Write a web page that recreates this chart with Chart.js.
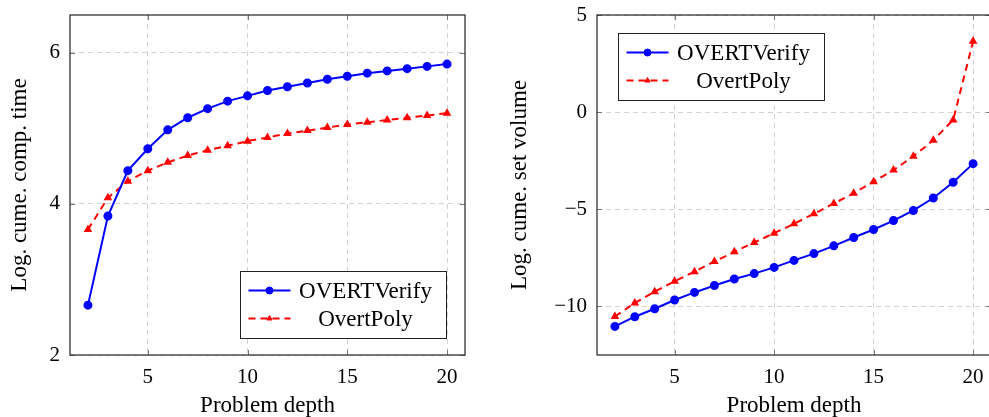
<!DOCTYPE html>
<html>
<head>
<meta charset="utf-8">
<script src="https://cdn.jsdelivr.net/npm/chart.js@4.4.0/dist/chart.umd.min.js"></script>
<style>
  html, body { margin: 0; padding: 0; background: #fff; overflow: hidden; }
  #wrap { position: relative; width: 989px; height: 417px; overflow: hidden; }
  .box { position: absolute; top: 0; height: 417px; }
  #leftBox { left: 0; width: 485px; }
  #rightBox { left: 500px; width: 505px; }
</style>
</head>
<body>
<div id="wrap">
  <div class="box" id="leftBox"><canvas id="timeChart"></canvas></div>
  <div class="box" id="rightBox"><canvas id="volChart"></canvas></div>
</div>
<script>
// ==================== Data ====================
const depths = [2, 3, 4, 5, 6, 7, 8, 9, 10, 11, 12, 13, 14, 15, 16, 17, 18, 19, 20];

// left: log cumulative computation time
const timeOvertVerify = [2.66, 3.84, 4.44, 4.73, 4.98, 5.14, 5.26, 5.36, 5.43, 5.50,
                         5.55, 5.60, 5.65, 5.69, 5.73, 5.76, 5.79, 5.82, 5.85];
const timeOvertPoly = [3.66, 4.08, 4.30, 4.44, 4.55, 4.64, 4.71, 4.77, 4.83, 4.88,
                       4.93, 4.97, 5.01, 5.05, 5.08, 5.11, 5.14, 5.17, 5.20];

// right: log cumulative set volume
const volOvertVerify = [-11.03, -10.53, -10.12, -9.67, -9.28, -8.92, -8.59, -8.31, -7.99, -7.63,
                        -7.28, -6.88, -6.45, -6.04, -5.58, -5.06, -4.42, -3.61, -2.65];
const volOvertPoly = [-10.52, -9.82, -9.24, -8.71, -8.21, -7.69, -7.19, -6.71, -6.23, -5.75,
                      -5.23, -4.70, -4.17, -3.58, -2.98, -2.27, -1.45, -0.40, 3.65];

const seriesNames = ['OVERTVerify', 'OvertPoly'];
const depthTicks = [5, 10, 15, 20];
const timeTicks = [2, 4, 6];
const volTicks = [-10, -5, 0, 5];

const FONT = "'Liberation Serif', 'DejaVu Serif', serif";
const BLUE = 'rgb(0, 0, 255)';
const RED = 'rgb(255, 0, 0)';

// ==================== Frame, inner ticks and boxed legend ====================
const framePlugin = {
    id: 'frameBox',
    afterDraw(chart, args, opts) {
        const ctx = chart.ctx;
        const ca = chart.chartArea;
        const xs = chart.scales.x;
        const ys = chart.scales.y;

        ctx.save();
        // tick marks pointing inward on all four sides
        ctx.strokeStyle = '#777';
        ctx.lineWidth = 1;
        ctx.beginPath();
        xs.ticks.forEach(t => {
            const px = Math.round(xs.getPixelForValue(t.value)) + 0.5;
            ctx.moveTo(px, ca.bottom); ctx.lineTo(px, ca.bottom - 5);
            ctx.moveTo(px, ca.top); ctx.lineTo(px, ca.top + 5);
        });
        ys.ticks.forEach(t => {
            const py = Math.round(ys.getPixelForValue(t.value)) + 0.5;
            ctx.moveTo(ca.left, py); ctx.lineTo(ca.left + 5, py);
            ctx.moveTo(ca.right, py); ctx.lineTo(ca.right - 5, py);
        });
        ctx.stroke();

        // axis box
        ctx.strokeStyle = '#222';
        ctx.lineWidth = 1.2;
        ctx.strokeRect(ca.left, ca.top, ca.right - ca.left, ca.bottom - ca.top);

        // legend box
        const w = 206, h = 67;
        let x0, y0;
        if (opts.corner === 'br') {
            x0 = ca.right - opts.dx - w;
            y0 = ca.bottom - opts.dy - h;
        } else {
            x0 = ca.left + opts.dx;
            y0 = ca.top + opts.dy;
        }
        x0 = Math.round(x0) + 0.5;
        y0 = Math.round(y0) + 0.5;
        ctx.fillStyle = '#fff';
        ctx.fillRect(x0, y0, w, h);
        ctx.strokeStyle = '#222';
        ctx.lineWidth = 1;
        ctx.strokeRect(x0, y0, w, h);

        chart.data.datasets.forEach((ds, i) => {
            const cy = y0 + 19 + i * 28;
            ctx.save();
            ctx.strokeStyle = ds.borderColor;
            ctx.lineWidth = ds.borderWidth;
            ctx.setLineDash(ds.borderDash || []);
            ctx.beginPath();
            ctx.moveTo(x0 + 8, cy);
            ctx.lineTo(x0 + 50, cy);
            ctx.stroke();
            ctx.restore();

            ctx.fillStyle = ds.pointBackgroundColor;
            ctx.strokeStyle = ds.pointBorderColor;
            Chart.helpers.drawPoint(ctx, {
                pointStyle: ds.pointStyle,
                radius: ds.pointRadius,
                rotation: 0,
                borderWidth: 1
            }, x0 + 29, cy);

            ctx.fillStyle = '#000';
            ctx.font = '23px ' + FONT;
            ctx.textAlign = 'center';
            ctx.textBaseline = 'middle';
            ctx.fillText(ds.label, x0 + 125, cy + 1);
        });
        ctx.restore();
    }
};

// ==================== Chart factory ====================
function fmtTick(v) {
    return v < 0 ? '\u2212' + Math.abs(v) : String(v);
}

function makeDatasets(blueVals, redVals) {
    return [
        {
            label: seriesNames[0],
            data: depths.map((d, i) => ({ x: d, y: blueVals[i] })),
            borderColor: BLUE,
            backgroundColor: BLUE,
            borderWidth: 2,
            pointStyle: 'circle',
            pointRadius: 3.5,
            pointBackgroundColor: BLUE,
            pointBorderColor: BLUE,
            tension: 0
        },
        {
            label: seriesNames[1],
            data: depths.map((d, i) => ({ x: d, y: redVals[i] })),
            borderColor: RED,
            backgroundColor: RED,
            borderWidth: 2,
            borderDash: [7, 5],
            pointStyle: 'triangle',
            pointRadius: 3,
            pointBackgroundColor: RED,
            pointBorderColor: RED,
            tension: 0
        }
    ];
}

function makeChart(canvasId, cfg) {
    const ctx = document.getElementById(canvasId).getContext('2d');
    return new Chart(ctx, {
        type: 'line',
        data: { datasets: makeDatasets(cfg.blue, cfg.red) },
        options: {
            responsive: true,
            maintainAspectRatio: false,
            animation: false,
            layout: { padding: { top: 15, right: cfg.padRight, left: 0, bottom: 0 } },
            plugins: {
                legend: { display: false },
                tooltip: { enabled: false },
                frameBox: cfg.legend
            },
            scales: {
                x: {
                    type: 'linear',
                    min: 1.1,
                    max: 20.9,
                    afterBuildTicks: s => { s.ticks = depthTicks.map(v => ({ value: v })); },
                    afterFit: s => { s.height = 62; s.paddingLeft = 0; s.paddingRight = 0; },
                    ticks: {
                        color: '#000',
                        padding: 10,
                        maxRotation: 0,
                        font: { family: FONT, size: 21 },
                        callback: v => fmtTick(v)
                    },
                    grid: { color: '#d2d2d2', lineWidth: 1, drawTicks: false },
                    border: { display: false, dash: [5, 4] },
                    title: {
                        display: true,
                        text: 'Problem depth',
                        color: '#000',
                        padding: { top: 0, bottom: -3 },
                        font: { family: FONT, size: 23 }
                    }
                },
                y: {
                    type: 'linear',
                    min: cfg.yMin,
                    max: cfg.yMax,
                    afterBuildTicks: s => { s.ticks = cfg.yTicks.map(v => ({ value: v })); },
                    afterFit: s => { s.width = cfg.yWidth; s.paddingTop = 0; s.paddingBottom = 0; },
                    ticks: {
                        color: '#000',
                        padding: 10,
                        font: { family: FONT, size: 21 },
                        callback: v => fmtTick(v)
                    },
                    grid: { color: '#d2d2d2', lineWidth: 1, drawTicks: false },
                    border: { display: false, dash: [5, 4] },
                    title: {
                        display: true,
                        text: cfg.yTitle,
                        color: '#000',
                        padding: { top: 6, bottom: 0 },
                        font: { family: FONT, size: 23 }
                    }
                }
            }
        },
        plugins: [framePlugin]
    });
}

// ==================== Initialize ====================
document.addEventListener('DOMContentLoaded', () => {
    makeChart('timeChart', {
        blue: timeOvertVerify,
        red: timeOvertPoly,
        yMin: 2,
        yMax: 6.5,
        yTicks: timeTicks,
        yWidth: 70,
        padRight: 20,
        yTitle: 'Log. cume. comp. time',
        legend: { corner: 'br', dx: 19, dy: 17 }
    });

    makeChart('volChart', {
        blue: volOvertVerify,
        red: volOvertPoly,
        yMin: -12.5,
        yMax: 5,
        yTicks: volTicks,
        yWidth: 97,
        padRight: 14,
        yTitle: 'Log. cume. set volume',
        legend: { corner: 'tl', dx: 21, dy: 18 }
    });
});
</script>
</body>
</html>
